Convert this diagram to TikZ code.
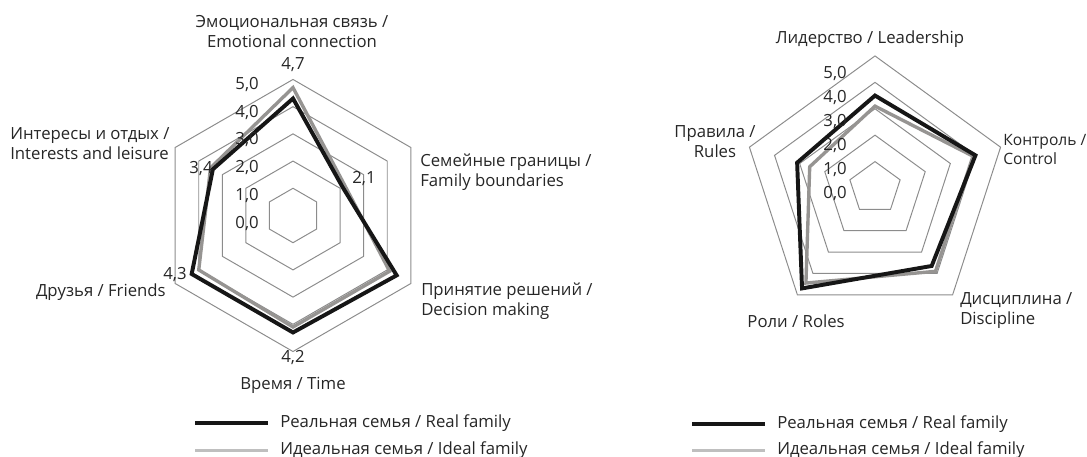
\documentclass[tikz,border=0pt]{standalone}
\usepackage{fontspec}
\setmainfont{Open Sans}
\definecolor{anel}{RGB}{140,140,140}
\definecolor{real}{RGB}{22,22,22}
\definecolor{ideal}{RGB}{150,148,146}
\definecolor{idealleg}{RGB}{191,191,191}
\tikzset{
  anelline/.style={anel, line width=0.7pt},
  realline/.style={real, line width=2.8pt},
  idealline/.style={ideal, line width=2.4pt},
  rotulo/.style={inner sep=0pt, text=black!85},
}
\begin{document}
\begin{tikzpicture}[x=0.025cm, y=0.025cm, font=\fontsize{11.9}{14.2}\selectfont]
  \useasboundingbox (0,0) rectangle (1087,457);

  % hexágono: família (6 eixos), 1 unidade = 27.2 px
  \begin{scope}[shift={(293,241.5)}, x=0.68cm, y=0.68cm]
    \foreach \r in {1,...,5}
      \draw[anelline] (90:\r) -- (30:\r) -- (-30:\r) -- (-90:\r) -- (-150:\r) -- (150:\r) -- cycle;
    \draw[idealline] (90:4.7) -- (30:2.2) -- (-30:4.1) -- (-90:4.1) -- (-150:4.0) -- (150:3.5) -- cycle;
    \draw[realline] (90:4.3) -- (30:2.1) -- (-30:4.4) -- (-90:4.3) -- (-150:4.3) -- (150:3.4) -- cycle;
  \end{scope}
  \foreach \v in {0,...,5}
    \node[rotulo, anchor=east] (tickA\v) at (259,{233.7+27.8*\v}) {\v,0};
  \node[rotulo, align=center] (emoc) at (292,425) {Эмоциональная связь /\\Emotional connection};
  \node[rotulo] (vemoc) at (293,392) {4,7};
  \node[rotulo, anchor=west, align=left] (front) at (420,285) {Семейные границы /\\Family boundaries};
  \node[rotulo] (vfront) at (364,278) {2,1};
  \node[rotulo, anchor=west, align=left] (decis) at (421,156) {Принятие решений /\\Decision making};
  \node[rotulo] (vtempo) at (293,99) {4,2};
  \node[rotulo] (tempo) at (293,71.5) {Время / Time};
  \node[rotulo, anchor=east] (amigos) at (166,165) {Друзья / Friends};
  \node[rotulo] (vamigos) at (175,182) {4,3};
  \node[rotulo, anchor=west, align=left] (inter) at (10,313) {Интересы и отдых /\\Interests and leisure};
  \node[rotulo] (vinter) at (201,288) {3,4};

  % pentágono: educação (5 eixos), 1 unidade = 26.4 px
  \begin{scope}[shift={(875,269)}, x=0.66cm, y=0.66cm]
    \foreach \r in {1,...,5}
      \draw[anelline] (90:\r) -- (18:\r) -- (-54:\r) -- (-126:\r) -- (162:\r) -- cycle;
    \draw[idealline] (90:3.1) -- (18:3.9) -- (-54:3.9) -- (-126:4.45) -- (162:2.6) -- cycle;
    \draw[realline] (90:3.5) -- (18:4.0) -- (-54:3.65) -- (-126:4.7) -- (162:3.1) -- cycle;
  \end{scope}
  \foreach \v in {0,...,5}
    \node[rotulo, anchor=east] (tickB\v) at (847,{263.7+24*\v}) {\v,0};
  \node[rotulo] (lider) at (870,417.5) {Лидерство / Leadership};
  % "Контроль /" encosta à margem direita: letra um pouco menor para caber
  \node[rotulo, anchor=west, align=left, font=\fontsize{11.1}{14.2}\selectfont] (contr) at (1003,307.5) {Контроль /\\Control};
  \node[rotulo, anchor=west, align=left] (disc) at (960,146.5) {Дисциплина /\\Discipline};
  \node[rotulo, anchor=east] (papeis) at (845,135.5) {Роли / Roles};
  \node[rotulo, align=center] (regras) at (715,315) {Правила /\\Rules};

  % legendas
  \draw[real, line width=2.8pt] (195,33.7) -- (268,33.7);
  \node[rotulo, anchor=west] (legrealA) at (280,33.7) {Реальная семья / Real family};
  \draw[idealleg, line width=2.8pt] (195,6.5) -- (268,6.5);
  \node[rotulo, anchor=west] (legidealA) at (280,6.5) {Идеальная семья / Ideal family};
  \draw[real, line width=2.8pt] (692,32.7) -- (765,32.7);
  \node[rotulo, anchor=west] (legrealB) at (777,32.7) {Реальная семья / Real family};
  \draw[idealleg, line width=2.8pt] (692,6.5) -- (765,6.5);
  \node[rotulo, anchor=west] (legidealB) at (777,6.5) {Идеальная семья / Ideal family};
\end{tikzpicture}
\end{document}
